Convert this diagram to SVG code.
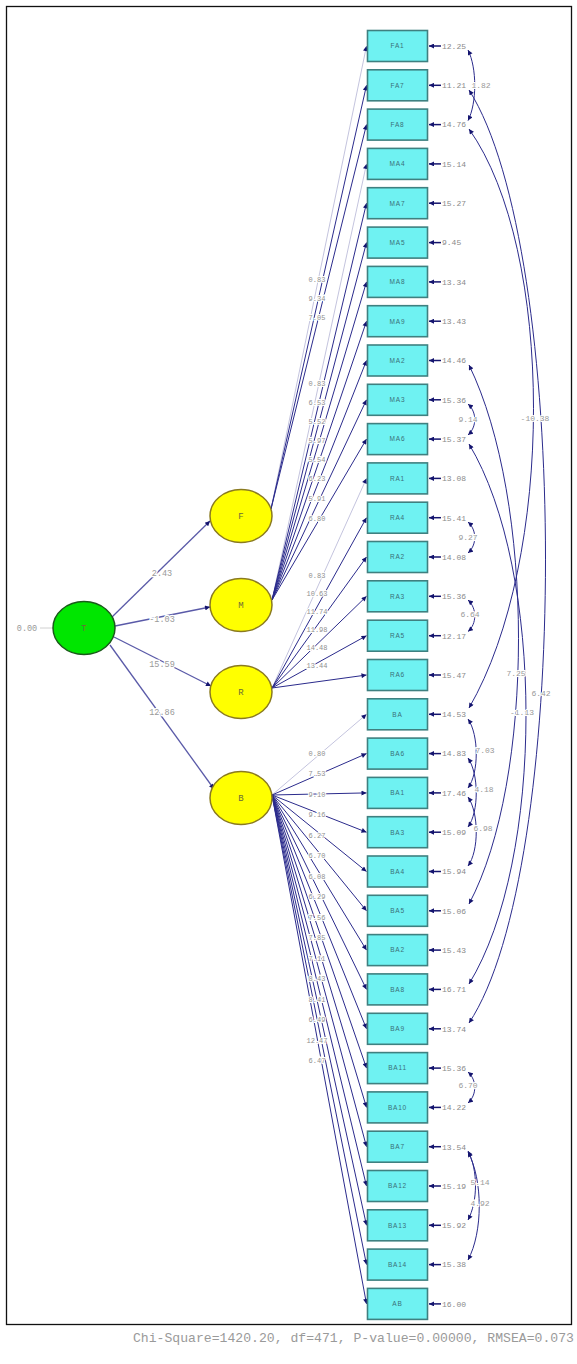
<svg xmlns="http://www.w3.org/2000/svg" width="577" height="1364" viewBox="0 0 577 1364">
<style>
.ind rect{fill:#6ff2f2;stroke:#3f8080;stroke-width:1.6}
.bl{font:6.5px "Liberation Sans",Arial,sans-serif;fill:#3a6f78;text-anchor:middle;letter-spacing:0.8px}
.err{stroke:#14146e;stroke-width:1.5;marker-end:url(#ah)}
.ev{font:8px "Liberation Mono",monospace;fill:#8a8a8a}
.ld{stroke:#2b2b8c;stroke-width:1;fill:none;marker-end:url(#ah)}
.fx{stroke:#c4c4de}
.st{stroke:#5a5aa8;stroke-width:1.3;fill:none;marker-end:url(#ah)}
.cv{stroke:#2b2b8c;stroke-width:1;fill:none;marker-start:url(#ah2);marker-end:url(#ah2)}
.lb{font:7px "Liberation Mono",monospace;fill:#8f8f8f;text-anchor:middle;stroke:#fff;stroke-width:2;paint-order:stroke}
.lc{font:8px "Liberation Mono",monospace;fill:#999;text-anchor:middle;stroke:#fff;stroke-width:2;paint-order:stroke}
.lt{font:8.5px "Liberation Mono",monospace;fill:#999;text-anchor:middle;stroke:#fff;stroke-width:2.5;paint-order:stroke}
.lat ellipse{stroke-width:1.5}
.ln{font:9px "Liberation Mono",monospace;fill:#6a6a3a;text-anchor:middle}
</style>
<defs>
<marker id="ah" viewBox="0 0 10 10" refX="10" refY="5" markerWidth="7" markerHeight="5" markerUnits="userSpaceOnUse" orient="auto"><path d="M0,0 L10,5 L0,10 z" fill="#14146e"/></marker>
<marker id="ah2" viewBox="0 0 10 10" refX="10" refY="5" markerWidth="6" markerHeight="5" markerUnits="userSpaceOnUse" orient="auto-start-reverse"><path d="M0,0 L10,5 L0,10 z" fill="#14146e"/></marker>
</defs>
<rect x="0" y="0" width="577" height="1364" fill="#fff"/>
<rect x="6.5" y="6.5" width="565" height="1318" fill="none" stroke="#111" stroke-width="1.3"/>

<!-- connectors -->
<g id="connectors">
 <!-- second-order paths -->
 <line class="st" x1="112" y1="617" x2="210" y2="521"/>
 <line class="st" x1="115" y1="626" x2="210" y2="607"/>
 <line class="st" x1="114" y1="637" x2="211" y2="686"/>
 <line class="st" x1="110" y1="645" x2="214" y2="789"/>
 <line x1="40" y1="628" x2="53" y2="628" stroke="#d0d0d0" stroke-width="1"/>
 <!-- F loadings -->
 <line class="ld fx" x1="271" y1="509" x2="366.5" y2="46"/>
 <line class="ld" x1="271" y1="509" x2="366.5" y2="85.3"/>
 <line class="ld" x1="271" y1="509" x2="366.5" y2="124.6"/>
 <!-- M loadings -->
 <line class="ld fx" x1="272" y1="600" x2="366.5" y2="163.9"/>
 <line class="ld" x1="272" y1="600" x2="366.5" y2="203.2"/>
 <line class="ld" x1="272" y1="600" x2="366.5" y2="242.6"/>
 <line class="ld" x1="272" y1="600" x2="366.5" y2="281.9"/>
 <line class="ld" x1="272" y1="600" x2="366.5" y2="321.2"/>
 <line class="ld" x1="272" y1="600" x2="366.5" y2="360.5"/>
 <line class="ld" x1="272" y1="600" x2="366.5" y2="399.8"/>
 <line class="ld" x1="272" y1="600" x2="366.5" y2="439.1"/>
 <!-- R loadings -->
 <line class="ld fx" x1="272" y1="688" x2="366.5" y2="478.4"/>
 <line class="ld" x1="272" y1="688" x2="366.5" y2="517.7"/>
 <line class="ld" x1="272" y1="688" x2="366.5" y2="557"/>
 <line class="ld" x1="272" y1="688" x2="366.5" y2="596.3"/>
 <line class="ld" x1="272" y1="688" x2="366.5" y2="635.7"/>
 <line class="ld" x1="272" y1="688" x2="366.5" y2="675"/>
 <!-- B loadings -->
 <line class="ld fx" x1="272" y1="795" x2="366.5" y2="714.3"/>
 <line class="ld" x1="272" y1="795" x2="366.5" y2="753.6"/>
 <line class="ld" x1="272" y1="795" x2="366.5" y2="792.9"/>
 <line class="ld" x1="272" y1="795" x2="366.5" y2="832.2"/>
 <line class="ld" x1="272" y1="795" x2="366.5" y2="871.5"/>
 <line class="ld" x1="272" y1="795" x2="366.5" y2="910.8"/>
 <line class="ld" x1="272" y1="795" x2="366.5" y2="950.1"/>
 <line class="ld" x1="272" y1="795" x2="366.5" y2="989.4"/>
 <line class="ld" x1="272" y1="795" x2="366.5" y2="1028.8"/>
 <line class="ld" x1="272" y1="795" x2="366.5" y2="1068.1"/>
 <line class="ld" x1="272" y1="795" x2="366.5" y2="1107.4"/>
 <line class="ld" x1="272" y1="795" x2="366.5" y2="1146.7"/>
 <line class="ld" x1="272" y1="795" x2="366.5" y2="1186"/>
 <line class="ld" x1="272" y1="795" x2="366.5" y2="1225.3"/>
 <line class="ld" x1="272" y1="795" x2="366.5" y2="1264.6"/>
 <line class="ld" x1="272" y1="795" x2="366.5" y2="1303.9"/>
 <!-- error covariances -->
 <path class="cv" d="M468,50 C477,68 477,103 468,120.6"/>
 <path class="cv" d="M468,404 C477,412 477,427 468,435"/>
 <path class="cv" d="M468,522 C477,530 477,545 468,553"/>
 <path class="cv" d="M468,600 C477,608 477,624 468,631.5"/>
 <path class="cv" d="M468,719 C479,735 479,773 468,788"/>
 <path class="cv" d="M468,758 C479,774 479,812 468,827"/>
 <path class="cv" d="M468,797 C479,813 479,851 468,866"/>
 <path class="cv" d="M468,1072 C477,1080 477,1095 468,1103"/>
 <path class="cv" d="M468,1151 C478,1170 478,1201 468,1220"/>
 <path class="cv" d="M468,1152 C483,1180 483,1232 468,1260"/>
 <path class="cv" d="M469,90 C571,250 571,870 469,1023"/>
 <path class="cv" d="M469,129 C555,250 555,560 469,708"/>
 <path class="cv" d="M469,365 C535,500 535,780 469,904"/>
 <path class="cv" d="M469,444 C545,570 545,860 469,984"/>
 <!-- labels -->
 <text class="lt" x="27" y="631">0.00</text>
 <text class="lt" x="162" y="576">2.43</text>
 <text class="lt" x="162" y="622">-1.03</text>
 <text class="lt" x="162" y="667">15.59</text>
 <text class="lt" x="162" y="715">12.86</text>
 <text class="lb" x="317" y="282">0.83</text>
 <text class="lb" x="317" y="301">9.34</text>
 <text class="lb" x="317" y="320">7.05</text>
 <text class="lb" x="317" y="386">0.83</text>
 <text class="lb" x="317" y="405">6.53</text>
 <text class="lb" x="317" y="424">5.52</text>
 <text class="lb" x="317" y="443">5.97</text>
 <text class="lb" x="317" y="462">5.54</text>
 <text class="lb" x="317" y="481">6.23</text>
 <text class="lb" x="317" y="501">5.91</text>
 <text class="lb" x="317" y="521">6.80</text>
 <text class="lb" x="317" y="578">0.83</text>
 <text class="lb" x="317" y="596">10.63</text>
 <text class="lb" x="317" y="614">11.74</text>
 <text class="lb" x="317" y="632">11.98</text>
 <text class="lb" x="317" y="650">14.48</text>
 <text class="lb" x="317" y="668">13.44</text>
 <text class="lb" x="317" y="756">0.80</text>
 <text class="lb" x="317" y="776">7.53</text>
 <text class="lb" x="317" y="797">9.10</text>
 <text class="lb" x="317" y="817">9.16</text>
 <text class="lb" x="317" y="838">6.27</text>
 <text class="lb" x="317" y="858">6.70</text>
 <text class="lb" x="317" y="879">6.08</text>
 <text class="lb" x="317" y="899">6.29</text>
 <text class="lb" x="317" y="920">7.56</text>
 <text class="lb" x="317" y="940">7.85</text>
 <text class="lb" x="317" y="961">7.11</text>
 <text class="lb" x="317" y="981">8.43</text>
 <text class="lb" x="317" y="1002">8.41</text>
 <text class="lb" x="317" y="1022">6.49</text>
 <text class="lb" x="317" y="1043">12.47</text>
 <text class="lb" x="317" y="1063">6.47</text>
 <text class="lc" x="481" y="88">1.82</text>
 <text class="lc" x="468" y="422">9.14</text>
 <text class="lc" x="468" y="540">9.27</text>
 <text class="lc" x="470" y="617">6.64</text>
 <text class="lc" x="485" y="753">7.03</text>
 <text class="lc" x="484" y="792">4.18</text>
 <text class="lc" x="483" y="831">6.98</text>
 <text class="lc" x="468" y="1088">6.70</text>
 <text class="lc" x="480" y="1185">5.14</text>
 <text class="lc" x="480" y="1206">4.92</text>
 <text class="lc" x="535" y="421">-10.38</text>
 <text class="lc" x="516" y="676">7.25</text>
 <text class="lc" x="541" y="696">6.42</text>
 <text class="lc" x="522" y="715">-1.13</text>
</g>

<!-- latent variables -->
<g id="T" class="lat"><ellipse cx="84" cy="628" rx="31" ry="26.5" fill="#00e600" stroke="#1a5a1a"/><text class="ln" x="84" y="631">T</text></g>
<g id="F" class="lat"><ellipse cx="241" cy="516" rx="31" ry="26.5" fill="#ffff00" stroke="#8a7a20"/><text class="ln" x="241" y="519">F</text></g>
<g id="M" class="lat"><ellipse cx="241" cy="605" rx="31" ry="26.5" fill="#ffff00" stroke="#8a7a20"/><text class="ln" x="241" y="608">M</text></g>
<g id="R" class="lat"><ellipse cx="241" cy="692" rx="31" ry="26.5" fill="#ffff00" stroke="#8a7a20"/><text class="ln" x="241" y="695">R</text></g>
<g id="B" class="lat"><ellipse cx="241" cy="798" rx="31" ry="26.5" fill="#ffff00" stroke="#8a7a20"/><text class="ln" x="241" y="801">B</text></g>

<!-- observed indicators with their error terms -->
<g id="FA1" class="ind" transform="translate(0,46)"><rect x="367.5" y="-15.5" width="60" height="31"/><text class="bl" x="397.5" y="2.3">FA1</text><line class="err" x1="441" y1="0" x2="429" y2="0"/><text class="ev" x="442" y="2.8">12.25</text></g>
<g id="FA7" class="ind" transform="translate(0,85.3)"><rect x="367.5" y="-15.5" width="60" height="31"/><text class="bl" x="397.5" y="2.3">FA7</text><line class="err" x1="441" y1="0" x2="429" y2="0"/><text class="ev" x="442" y="2.8">11.21</text></g>
<g id="FA8" class="ind" transform="translate(0,124.6)"><rect x="367.5" y="-15.5" width="60" height="31"/><text class="bl" x="397.5" y="2.3">FA8</text><line class="err" x1="441" y1="0" x2="429" y2="0"/><text class="ev" x="442" y="2.8">14.76</text></g>
<g id="MA4" class="ind" transform="translate(0,163.9)"><rect x="367.5" y="-15.5" width="60" height="31"/><text class="bl" x="397.5" y="2.3">MA4</text><line class="err" x1="441" y1="0" x2="429" y2="0"/><text class="ev" x="442" y="2.8">15.14</text></g>
<g id="MA7" class="ind" transform="translate(0,203.2)"><rect x="367.5" y="-15.5" width="60" height="31"/><text class="bl" x="397.5" y="2.3">MA7</text><line class="err" x1="441" y1="0" x2="429" y2="0"/><text class="ev" x="442" y="2.8">15.27</text></g>
<g id="MA5" class="ind" transform="translate(0,242.6)"><rect x="367.5" y="-15.5" width="60" height="31"/><text class="bl" x="397.5" y="2.3">MA5</text><line class="err" x1="441" y1="0" x2="429" y2="0"/><text class="ev" x="442" y="2.8">9.45</text></g>
<g id="MA8" class="ind" transform="translate(0,281.9)"><rect x="367.5" y="-15.5" width="60" height="31"/><text class="bl" x="397.5" y="2.3">MA8</text><line class="err" x1="441" y1="0" x2="429" y2="0"/><text class="ev" x="442" y="2.8">13.34</text></g>
<g id="MA9" class="ind" transform="translate(0,321.2)"><rect x="367.5" y="-15.5" width="60" height="31"/><text class="bl" x="397.5" y="2.3">MA9</text><line class="err" x1="441" y1="0" x2="429" y2="0"/><text class="ev" x="442" y="2.8">13.43</text></g>
<g id="MA2" class="ind" transform="translate(0,360.5)"><rect x="367.5" y="-15.5" width="60" height="31"/><text class="bl" x="397.5" y="2.3">MA2</text><line class="err" x1="441" y1="0" x2="429" y2="0"/><text class="ev" x="442" y="2.8">14.46</text></g>
<g id="MA3" class="ind" transform="translate(0,399.8)"><rect x="367.5" y="-15.5" width="60" height="31"/><text class="bl" x="397.5" y="2.3">MA3</text><line class="err" x1="441" y1="0" x2="429" y2="0"/><text class="ev" x="442" y="2.8">15.36</text></g>
<g id="MA6" class="ind" transform="translate(0,439.1)"><rect x="367.5" y="-15.5" width="60" height="31"/><text class="bl" x="397.5" y="2.3">MA6</text><line class="err" x1="441" y1="0" x2="429" y2="0"/><text class="ev" x="442" y="2.8">15.37</text></g>
<g id="RA1" class="ind" transform="translate(0,478.4)"><rect x="367.5" y="-15.5" width="60" height="31"/><text class="bl" x="397.5" y="2.3">RA1</text><line class="err" x1="441" y1="0" x2="429" y2="0"/><text class="ev" x="442" y="2.8">13.08</text></g>
<g id="RA4" class="ind" transform="translate(0,517.7)"><rect x="367.5" y="-15.5" width="60" height="31"/><text class="bl" x="397.5" y="2.3">RA4</text><line class="err" x1="441" y1="0" x2="429" y2="0"/><text class="ev" x="442" y="2.8">15.41</text></g>
<g id="RA2" class="ind" transform="translate(0,557)"><rect x="367.5" y="-15.5" width="60" height="31"/><text class="bl" x="397.5" y="2.3">RA2</text><line class="err" x1="441" y1="0" x2="429" y2="0"/><text class="ev" x="442" y="2.8">14.08</text></g>
<g id="RA3" class="ind" transform="translate(0,596.3)"><rect x="367.5" y="-15.5" width="60" height="31"/><text class="bl" x="397.5" y="2.3">RA3</text><line class="err" x1="441" y1="0" x2="429" y2="0"/><text class="ev" x="442" y="2.8">15.36</text></g>
<g id="RA5" class="ind" transform="translate(0,635.7)"><rect x="367.5" y="-15.5" width="60" height="31"/><text class="bl" x="397.5" y="2.3">RA5</text><line class="err" x1="441" y1="0" x2="429" y2="0"/><text class="ev" x="442" y="2.8">12.17</text></g>
<g id="RA6" class="ind" transform="translate(0,675)"><rect x="367.5" y="-15.5" width="60" height="31"/><text class="bl" x="397.5" y="2.3">RA6</text><line class="err" x1="441" y1="0" x2="429" y2="0"/><text class="ev" x="442" y="2.8">15.47</text></g>
<g id="BA" class="ind" transform="translate(0,714.3)"><rect x="367.5" y="-15.5" width="60" height="31"/><text class="bl" x="397.5" y="2.3">BA</text><line class="err" x1="441" y1="0" x2="429" y2="0"/><text class="ev" x="442" y="2.8">14.53</text></g>
<g id="BA6" class="ind" transform="translate(0,753.6)"><rect x="367.5" y="-15.5" width="60" height="31"/><text class="bl" x="397.5" y="2.3">BA6</text><line class="err" x1="441" y1="0" x2="429" y2="0"/><text class="ev" x="442" y="2.8">14.83</text></g>
<g id="BA1" class="ind" transform="translate(0,792.9)"><rect x="367.5" y="-15.5" width="60" height="31"/><text class="bl" x="397.5" y="2.3">BA1</text><line class="err" x1="441" y1="0" x2="429" y2="0"/><text class="ev" x="442" y="2.8">17.46</text></g>
<g id="BA3" class="ind" transform="translate(0,832.2)"><rect x="367.5" y="-15.5" width="60" height="31"/><text class="bl" x="397.5" y="2.3">BA3</text><line class="err" x1="441" y1="0" x2="429" y2="0"/><text class="ev" x="442" y="2.8">15.09</text></g>
<g id="BA4" class="ind" transform="translate(0,871.5)"><rect x="367.5" y="-15.5" width="60" height="31"/><text class="bl" x="397.5" y="2.3">BA4</text><line class="err" x1="441" y1="0" x2="429" y2="0"/><text class="ev" x="442" y="2.8">15.94</text></g>
<g id="BA5" class="ind" transform="translate(0,910.8)"><rect x="367.5" y="-15.5" width="60" height="31"/><text class="bl" x="397.5" y="2.3">BA5</text><line class="err" x1="441" y1="0" x2="429" y2="0"/><text class="ev" x="442" y="2.8">15.06</text></g>
<g id="BA2" class="ind" transform="translate(0,950.1)"><rect x="367.5" y="-15.5" width="60" height="31"/><text class="bl" x="397.5" y="2.3">BA2</text><line class="err" x1="441" y1="0" x2="429" y2="0"/><text class="ev" x="442" y="2.8">15.43</text></g>
<g id="BA8" class="ind" transform="translate(0,989.4)"><rect x="367.5" y="-15.5" width="60" height="31"/><text class="bl" x="397.5" y="2.3">BA8</text><line class="err" x1="441" y1="0" x2="429" y2="0"/><text class="ev" x="442" y="2.8">16.71</text></g>
<g id="BA9" class="ind" transform="translate(0,1028.8)"><rect x="367.5" y="-15.5" width="60" height="31"/><text class="bl" x="397.5" y="2.3">BA9</text><line class="err" x1="441" y1="0" x2="429" y2="0"/><text class="ev" x="442" y="2.8">13.74</text></g>
<g id="BA11" class="ind" transform="translate(0,1068.1)"><rect x="367.5" y="-15.5" width="60" height="31"/><text class="bl" x="397.5" y="2.3">BA11</text><line class="err" x1="441" y1="0" x2="429" y2="0"/><text class="ev" x="442" y="2.8">15.36</text></g>
<g id="BA10" class="ind" transform="translate(0,1107.4)"><rect x="367.5" y="-15.5" width="60" height="31"/><text class="bl" x="397.5" y="2.3">BA10</text><line class="err" x1="441" y1="0" x2="429" y2="0"/><text class="ev" x="442" y="2.8">14.22</text></g>
<g id="BA7" class="ind" transform="translate(0,1146.7)"><rect x="367.5" y="-15.5" width="60" height="31"/><text class="bl" x="397.5" y="2.3">BA7</text><line class="err" x1="441" y1="0" x2="429" y2="0"/><text class="ev" x="442" y="2.8">13.54</text></g>
<g id="BA12" class="ind" transform="translate(0,1186)"><rect x="367.5" y="-15.5" width="60" height="31"/><text class="bl" x="397.5" y="2.3">BA12</text><line class="err" x1="441" y1="0" x2="429" y2="0"/><text class="ev" x="442" y="2.8">15.19</text></g>
<g id="BA13" class="ind" transform="translate(0,1225.3)"><rect x="367.5" y="-15.5" width="60" height="31"/><text class="bl" x="397.5" y="2.3">BA13</text><line class="err" x1="441" y1="0" x2="429" y2="0"/><text class="ev" x="442" y="2.8">15.92</text></g>
<g id="BA14" class="ind" transform="translate(0,1264.6)"><rect x="367.5" y="-15.5" width="60" height="31"/><text class="bl" x="397.5" y="2.3">BA14</text><line class="err" x1="441" y1="0" x2="429" y2="0"/><text class="ev" x="442" y="2.8">15.38</text></g>
<g id="AB" class="ind" transform="translate(0,1303.9)"><rect x="367.5" y="-15.5" width="60" height="31"/><text class="bl" x="397.5" y="2.3">AB</text><line class="err" x1="441" y1="0" x2="429" y2="0"/><text class="ev" x="442" y="2.8">16.00</text></g>

<text x="133" y="1342" textLength="441" lengthAdjust="spacingAndGlyphs" style="font:13px 'Liberation Mono',monospace;fill:#9a9a9a">Chi-Square=1420.20, df=471, P-value=0.00000, RMSEA=0.073</text>
</svg>
